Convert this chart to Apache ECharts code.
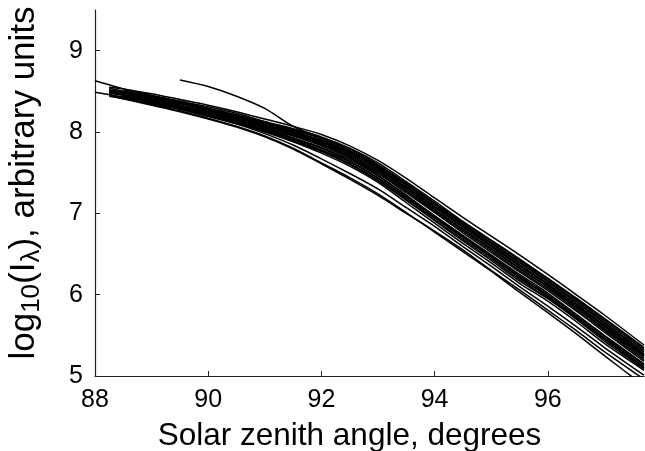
<!DOCTYPE html>
<html>
<head>
<meta charset="utf-8">
<script src="https://cdn.jsdelivr.net/npm/echarts@6/dist/echarts.min.js"></script>
<style>html,body{margin:0;padding:0;background:#fff}#c{width:645px;height:451px}</style>
</head>
<body>
<div id="c"></div>
<script>
// Solar zenith angle grid (degrees)
var xs = [88, 88.25, 88.5, 89, 89.5, 90, 90.5, 91, 91.5, 92, 92.5, 93, 93.5, 94, 94.5, 95, 95.5, 96, 96.5, 97, 97.7];
var xTicks = [88, 90, 92, 94, 96];
var yTicks = [5, 6, 7, 8, 9];

// log10(I) curves, null = not yet started
var lineA = [8.63, 8.58, 8.53, 8.45, 8.37, 8.29, 8.20, 8.11, 8.01, 7.89, 7.74, 7.55, 7.32, 7.08, 6.84, 6.60, 6.36, 6.12, 5.87, 5.62, 5.26];
var lineB = [null, 8.55, 8.53, 8.47, 8.40, 8.33, 8.25, 8.16, 8.07, 7.97, 7.83, 7.65, 7.43, 7.19, 6.95, 6.72, 6.49, 6.25, 6.00, 5.75, 5.38];
var lineC = [null, null, 8.52, 8.45, 8.38, 8.31, 8.23, 8.13, 8.04, 7.94, 7.80, 7.62, 7.39, 7.15, 6.90, 6.67, 6.44, 6.20, 5.95, 5.70, 5.34];
var lineD = [null, 8.52, 8.49, 8.43, 8.37, 8.29, 8.21, 8.12, 8.02, 7.92, 7.77, 7.59, 7.36, 7.12, 6.87, 6.64, 6.40, 6.17, 5.92, 5.66, 5.30];
var lineE = [null, 8.50, 8.47, 8.41, 8.35, 8.28, 8.19, 8.10, 8.00, 7.90, 7.75, 7.56, 7.33, 7.09, 6.84, 6.60, 6.37, 6.14, 5.88, 5.63, 5.27];
var lineF = [null, null, 8.46, 8.40, 8.33, 8.26, 8.17, 8.08, 7.98, 7.87, 7.72, 7.53, 7.30, 7.05, 6.81, 6.57, 6.33, 6.10, 5.85, 5.59, 5.24];
var lineG = [null, 8.48, 8.45, 8.39, 8.32, 8.25, 8.16, 8.07, 7.97, 7.86, 7.71, 7.52, 7.28, 7.04, 6.80, 6.56, 6.32, 6.09, 5.84, 5.58, 5.22];
var lineH = [null, null, 8.44, 8.38, 8.31, 8.23, 8.14, 8.05, 7.95, 7.83, 7.68, 7.49, 7.25, 7.01, 6.76, 6.52, 6.28, 6.05, 5.80, 5.54, 5.18];
var lineI = [null, 8.46, 8.43, 8.37, 8.30, 8.22, 8.13, 8.04, 7.93, 7.81, 7.66, 7.46, 7.22, 6.97, 6.73, 6.49, 6.25, 6.02, 5.76, 5.50, 5.15];
var lineJ = [null, null, 8.42, 8.36, 8.29, 8.21, 8.12, 8.02, 7.91, 7.78, 7.63, 7.43, 7.19, 6.94, 6.70, 6.46, 6.21, 5.98, 5.73, 5.47, 5.12];
var lineK = [null, 8.44, 8.41, 8.35, 8.28, 8.20, 8.11, 8.01, 7.89, 7.76, 7.60, 7.40, 7.16, 6.91, 6.66, 6.42, 6.17, 5.95, 5.70, 5.43, 5.09];
var lineM = [null, null, 8.42, 8.35, 8.28, 8.19, 8.10, 8.00, 7.88, 7.74, 7.58, 7.38, 7.13, 6.88, 6.63, 6.39, 6.14, 5.92, 5.67, 5.40, 5.07];
var lineN = [null, 8.54, 8.50, 8.44, 8.36, 8.27, 8.18, 8.09, 7.97, 7.84, 7.68, 7.47, 7.22, 6.97, 6.72, 6.47, 6.22, 5.98, 5.72, 5.46, 5.10];
var lineP = [null, null, 8.43, 8.37, 8.31, 8.24, 8.16, 8.08, 7.99, 7.89, 7.75, 7.57, 7.35, 7.12, 6.89, 6.66, 6.43, 6.20, 5.96, 5.71, 5.35];
var lineQ = [null, null, 8.50, 8.44, 8.37, 8.29, 8.21, 8.12, 8.03, 7.92, 7.77, 7.58, 7.35, 7.11, 6.86, 6.62, 6.39, 6.16, 5.90, 5.65, 5.29];
var lineR = [null, 8.49, 8.46, 8.40, 8.33, 8.24, 8.15, 8.06, 7.96, 7.85, 7.70, 7.50, 7.27, 7.02, 6.78, 6.54, 6.30, 6.07, 5.82, 5.56, 5.20];
var lineS = [null, null, 8.44, 8.37, 8.30, 8.22, 8.13, 8.03, 7.92, 7.80, 7.64, 7.44, 7.20, 6.95, 6.71, 6.47, 6.23, 6.00, 5.75, 5.49, 5.14];
var lineU = [null, 8.51, 8.48, 8.42, 8.35, 8.27, 8.18, 8.09, 7.99, 7.88, 7.74, 7.55, 7.31, 7.07, 6.83, 6.59, 6.35, 6.12, 5.87, 5.61, 5.25];
var lineV = [null, null, 8.43, 8.36, 8.29, 8.21, 8.11, 8.01, 7.90, 7.77, 7.61, 7.41, 7.17, 6.92, 6.68, 6.44, 6.19, 5.96, 5.71, 5.45, 5.11];
var lineO = [null, null, null, null, 8.64, 8.56, 8.44, 8.29, 8.07, 7.93, 7.79, 7.60, 7.37, 7.13, 6.89, 6.66, 6.42, 6.19, 5.94, 5.68, 5.32];
var lineL1 = [8.49, 8.46, 8.42, 8.34, 8.26, 8.17, 8.07, 7.95, 7.80, 7.62, 7.44, 7.24, 7.01, 6.77, 6.53, 6.29, 6.03, 5.78, 5.52, 5.25, 4.88];
var lineL2 = [null, 8.45, 8.41, 8.33, 8.25, 8.16, 8.06, 7.94, 7.79, 7.61, 7.42, 7.22, 7.00, 6.78, 6.55, 6.30, 6.06, 5.81, 5.56, 5.30, 4.96];
var lineL3 = [null, null, 8.44, 8.37, 8.29, 8.20, 8.10, 7.98, 7.84, 7.67, 7.49, 7.30, 7.07, 6.84, 6.59, 6.35, 6.10, 5.86, 5.61, 5.35, 5.01];

var allLines = [lineA, lineB, lineC, lineD, lineE, lineF, lineG, lineH, lineI, lineJ, lineK, lineM, lineN, lineP,
  lineQ, lineR, lineS, lineU, lineV, lineO, lineL1, lineL2, lineL3];

var series = allLines.map(function (ys) {
  var data = [];
  for (var i = 0; i < xs.length; i++) {
    if (ys[i] !== null) data.push([xs[i], ys[i]]);
  }
  return {
    type: 'line', data: data, showSymbol: false, symbol: 'none',
    smooth: 0.25,
    lineStyle: { color: '#000', width: 1.5 }, silent: true, clip: true
  };
});

var FONT = 'Liberation Sans, Arial, Helvetica, sans-serif';
var chart = echarts.init(document.getElementById('c'), null, { renderer: 'canvas' });
chart.setOption({
  animation: false,
  backgroundColor: '#fff',
  grid: { left: 95, right: 1, top: 10, bottom: 75, containLabel: false, outerBoundsMode: 'none' },
  xAxis: {
    type: 'value', min: 88, max: 97.7, interval: 2,
    axisLine: { show: true, lineStyle: { color: '#222', width: 1.2 } },
    axisTick: { show: true, inside: true, length: 5, lineStyle: { color: '#222' }, customValues: xTicks },
    axisLabel: { color: '#000', fontSize: 25, fontFamily: FONT, margin: 12, customValues: xTicks },
    splitLine: { show: false },
    name: 'Solar zenith angle, degrees', nameLocation: 'middle', nameGap: 44,
    nameTextStyle: { color: '#000', fontSize: 31.5, fontFamily: FONT, padding: [0, 40, 0, 0] }
  },
  yAxis: {
    type: 'value', min: 5, max: 9.5, interval: 1,
    axisLine: { show: true, lineStyle: { color: '#222', width: 1.2 } },
    axisTick: { show: true, inside: true, length: 5, lineStyle: { color: '#222' }, customValues: yTicks },
    axisLabel: { color: '#000', fontSize: 25, fontFamily: FONT, margin: 12, customValues: yTicks },
    splitLine: { show: false },
    name: 'log{sub|10}(I{sub|λ}), arbitrary units', nameLocation: 'middle', nameGap: 50,
    nameTextStyle: {
      color: '#000', fontSize: 35, fontFamily: FONT, lineHeight: 42, padding: [0, 0, 0, 20],
      rich: {
        sub: { fontSize: 26, fontFamily: FONT, color: '#000', lineHeight: 24, verticalAlign: 'bottom' }
      }
    }
  },
  series: series
});
</script>
</body>
</html>
